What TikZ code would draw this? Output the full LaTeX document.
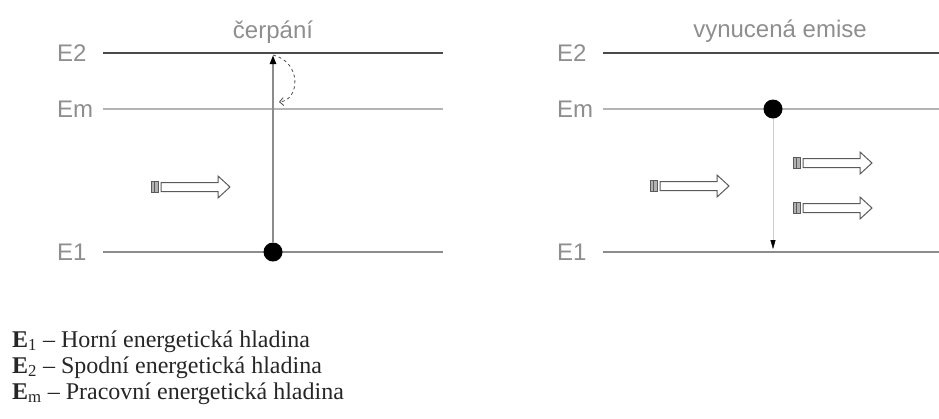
\documentclass[tikz,border=0pt]{standalone}
\usepackage{fontspec}
\setmainfont{Liberation Serif}
\newfontfamily\cadfont{Liberation Sans}
\usetikzlibrary{arrows.meta}

\begin{document}
\begin{tikzpicture}[x=1pt, y=-1pt,
    lvl/.style={font=\cadfont\fontsize{24}{24}\selectfont, text=txtgray,
                inner sep=0pt, anchor=west},
    title/.style={font=\cadfont\fontsize{24}{24}\selectfont, text=txtgray,
                  inner sep=0pt, anchor=base},
    dot/.style={circle, fill=black, minimum size=19pt, inner sep=0pt},
    legend/.style={font=\fontsize{24}{26}\selectfont, text=black!85,
                   inner sep=0pt, anchor=base west},
]

% Colors
\definecolor{txtgray}{HTML}{8E8E8E}
\definecolor{lvlhi}{HTML}{4A4A4A}
\definecolor{lvlmid}{HTML}{B4B4B4}
\definecolor{lvllo}{HTML}{8C8C8C}
\definecolor{phot}{HTML}{5A5A5A}

\useasboundingbox (0,0) rectangle (939,418);

\newcommand{\drawlevels}[3]{%
  \draw[lvlhi,  line width=2.3pt] (#1,53)  -- (#2,53);
  \draw[lvlmid, line width=1.5pt] (#1,109) -- (#2,109);
  \draw[lvllo,  line width=2.5pt] (#1,252) -- (#2,252);
  \node[lvl] (#3E2) at (#1-46,53)  {E2};
  \node[lvl] (#3Em) at (#1-46,109) {Em};
  \node[lvl] (#3E1) at (#1-46,252) {E1};
}

\newcommand{\photon}[3]{%
  \coordinate (#1) at (#2,#3);
  \draw[phot, fill=gray!60, line width=0.8pt] (#2,#3-5.5) rectangle (#2+7,#3+5.5);
  \draw[phot, line width=0.8pt] (#2+3.5,#3-5.5) -- (#2+3.5,#3+5.5);
  \draw[phot, line width=1pt, line join=miter]
    (#2+10,#3-4.5) -- (#2+67,#3-4.5) -- (#2+67,#3-11) -- (#2+79,#3)
    -- (#2+67,#3+11) -- (#2+67,#3+4.5) -- (#2+10,#3+4.5) -- cycle;
}

% === Panel 1: cerpani ===
\def\px{103}
\drawlevels{\px}{443}{L}
\node[title] (tL) at (273,38) {čerpání};

\node[dot] (dL) at (273,252) {};
\coordinate (topL) at (273,55);
\coordinate (arcL) at (279,102);
\draw[lvllo, line width=2.2pt, -{Triangle[length=9pt, width=6pt, black]}] (dL) -- (topL);
\draw[black!70, dashed, line width=0.8pt, -{Straight Barb[length=4pt]}]
  (topL) .. controls (302,62) and (300,100) .. (arcL);

\photon{pL}{151}{187}

% === Panel 2: vynucena emise ===
\def\px{603}
\drawlevels{\px}{939}{R}
\node[title] (tR) at (780,37) {vynucená emise};

\node[dot] (dR) at (773,109) {};
\coordinate (endR) at (773,249);
\draw[black!20, line width=0.4pt, -{Triangle[length=9pt, width=5pt, black]}] (dR) -- (endR);

\photon{pR}{650}{186}
\photon{oR1}{793}{163}
\photon{oR2}{793}{208}

% === Legend ===
\node[legend] (lg1) at (12,347) {\textbf{E}\textsubscript{1} – Horní energetická hladina};
\node[legend] (lg2) at (12,373) {\textbf{E}\textsubscript{2} – Spodní energetická hladina};
\node[legend] (lg3) at (12,399) {\textbf{E}\textsubscript{m} – Pracovní energetická hladina};
\end{tikzpicture}
\end{document}
